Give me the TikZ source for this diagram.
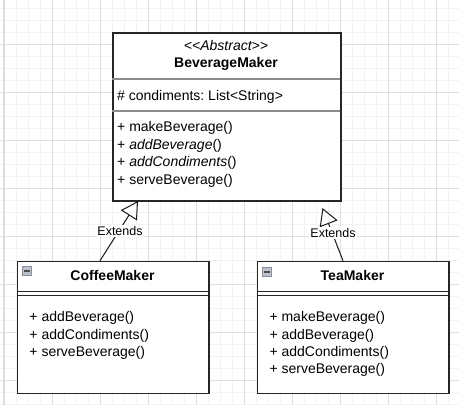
\documentclass[tikz,border=0pt]{standalone}
\usepackage{fontspec}
\setmainfont{Liberation Sans}
\usetikzlibrary{arrows.meta}
\frenchspacing
\definecolor{majorgrid}{HTML}{DEDEDE}
\definecolor{minorgrid}{HTML}{F3F3F3}
\definecolor{iconfill}{HTML}{BCC0CA}
\definecolor{iconedge}{HTML}{8A8E98}
\begin{document}
\begin{tikzpicture}[x=1pt,y=-1pt,
  txt/.style={font=\fontsize{14}{17}\selectfont, inner sep=0pt, anchor=base west},
  ttl/.style={font=\fontsize{14}{17}\selectfont\bfseries, inner sep=0pt, anchor=base},
  stereo/.style={font=\fontsize{14}{17}\selectfont\itshape, inner sep=0pt, anchor=base},
  classbox/.style={draw=black!85, line width=1.5pt, fill=white, inner sep=0pt, anchor=north west},
  sepg/.style={draw=black!45, line width=1.2pt},
  sepk/.style={draw=black!85, line width=1.2pt},
  lbl/.style={font=\fontsize{12.5}{15}\selectfont, fill=white, inner sep=1pt},
  extarrow/.style={draw=black!90, line width=1pt, -{Triangle[open, length=17pt, width=19pt, line width=1pt]}},
  minorline/.style={draw=minorgrid, line width=1pt},
  majorline/.style={draw=majorgrid, line width=1pt},
  iconbox/.style={draw=iconedge, fill=iconfill, line width=0.8pt},
  iconbar/.style={draw=black!70, line width=1.6pt}]
\useasboundingbox (0,0) rectangle (459,405);
\fill[white] (0,0) rectangle (459,405);
% grid
\foreach \i in {0,...,37} {\draw[minorline] ({4+12*\i},0) -- ({4+12*\i},405);}
\foreach \i in {0,...,33} {\draw[minorline] (0,{8+12*\i}) -- (459,{8+12*\i});}
\foreach \i in {0,...,9} {\draw[majorline] ({4+48*\i},0) -- ({4+48*\i},405);}
\foreach \i in {0,...,8} {\draw[majorline] (0,{-4+48*\i}) -- (459,{-4+48*\i});}

% BeverageMaker
\node[classbox, minimum width=228pt, minimum height=168pt] (bev) at (112,32) {};
\draw[sepg] (112,79) -- (340,79);
\draw[sepg] (112,111) -- (340,111);
\node[stereo] (bevst) at (226,50.5) {<{}<Abstract>{}>};
\node[ttl] (bevname) at (226,67.3) {BeverageMaker};
\node[txt] (bevattr) at (117,100) {\# condiments: List<{}String>{}};
\node[txt] (bevm1) at (117,131.7) {+ makeBeverage()};
\node[txt] (bevm2) at (117,149.2) {+ \textit{addBeverage}()};
\node[txt] (bevm3) at (117,166.7) {+ \textit{addCondiments}()};
\node[txt] (bevm4) at (117,184.2) {+ serveBeverage()};

% CoffeeMaker
\node[classbox, minimum width=191.6pt, minimum height=132pt] (coffee) at (16.7,260.7) {};
\draw[sepk] (16.7,291.7) -- (208.3,291.7);
\draw[sepk] (16.7,295.7) -- (208.3,295.7);
\draw[iconbox] (22.7,266.7) rectangle (31.7,275.7);
\draw[iconbar] (24.4,271.2) -- (30,271.2);
\node[ttl] (coffeename) at (112.5,280) {CoffeeMaker};
\node[txt] (cm1) at (29.3,321.7) {+ addBeverage()};
\node[txt] (cm2) at (29.3,339) {+ addCondiments()};
\node[txt] (cm3) at (29.3,356.3) {+ serveBeverage()};

% TeaMaker
\node[classbox, minimum width=191.6pt, minimum height=132pt] (tea) at (256.7,260.7) {};
\draw[sepk] (256.7,291.7) -- (448.3,291.7);
\draw[sepk] (256.7,295.7) -- (448.3,295.7);
\draw[iconbox] (262.7,267.2) rectangle (271.7,276.2);
\draw[iconbar] (264.4,271.7) -- (270,271.7);
\node[ttl] (teaname) at (352.5,280) {TeaMaker};
\node[txt] (tm1) at (269.3,321.7) {+ makeBeverage()};
\node[txt] (tm2) at (269.3,339) {+ addBeverage()};
\node[txt] (tm3) at (269.3,356.3) {+ addCondiments()};
\node[txt] (tm4) at (269.3,373.6) {+ serveBeverage()};

% inheritance connectors
\coordinate (cS) at (100,260.7);
\coordinate (cT) at (138,201);
\coordinate (tS) at (343,260.7);
\coordinate (tT) at (322.5,208);
\draw[extarrow] (cS) -- (cT);
\draw[extarrow] (tS) -- (tT);
\node[lbl] (cext) at (120,231) {Extends};
\node[lbl] (text) at (333,233) {Extends};
\end{tikzpicture}
\end{document}
